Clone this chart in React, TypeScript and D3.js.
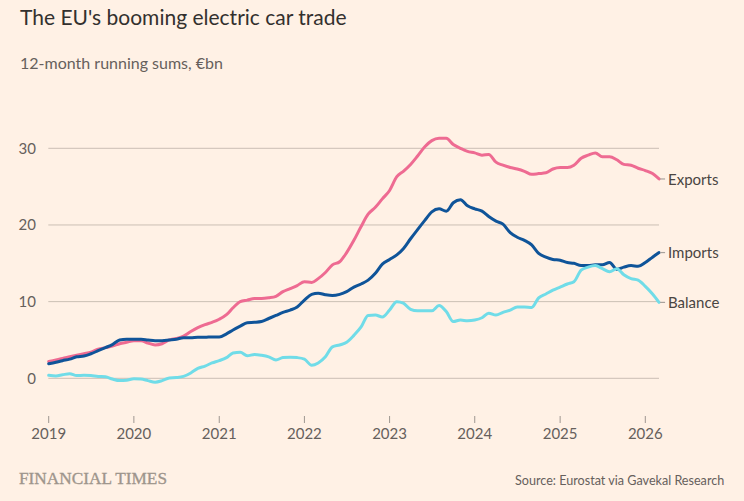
import React from "react";
import * as d3 from "d3";

const START_YEAR = 2019;
const exportsVals = [
  2.2, 2.4, 2.6, 2.8, 3.0, 3.2, 3.4, 3.8, 4.0, 4.2, 4.5, 4.7,
  4.9, 4.9, 4.6, 4.35, 4.5, 5.0, 5.2, 5.5, 6.1, 6.6, 7.0, 7.3,
  7.7, 8.3, 9.2, 10.0, 10.2, 10.4, 10.4, 10.5, 10.7, 11.3, 11.7, 12.1,
  12.6, 12.5, 13.0, 13.8, 14.8, 15.2, 16.4, 18.0, 19.8, 21.4, 22.3, 23.4,
  24.5, 26.3, 27.0, 27.9, 29.0, 30.2, 31.0, 31.3, 31.3, 30.5, 30.0, 29.6,
  29.4, 29.1, 29.2, 28.2, 27.8, 27.5, 27.3, 27.0, 26.6, 26.7, 26.8, 27.3,
  27.5, 27.5, 27.8, 28.7, 29.1, 29.4, 28.9, 28.9, 28.5, 27.9, 27.8, 27.4,
  27.1, 26.7, 26.0,
];
const importsVals = [
  1.9, 2.1, 2.3, 2.5, 2.8, 2.9, 3.2, 3.6, 4.0, 4.4, 5.0, 5.1,
  5.1, 5.1, 5.0, 4.9, 4.9, 5.0, 5.1, 5.3, 5.3, 5.35, 5.35, 5.4,
  5.4, 5.8, 6.3, 6.8, 7.25, 7.3, 7.4, 7.8, 8.2, 8.6, 8.9, 9.3,
  10.2, 10.95, 11.1, 10.9, 10.8, 10.95, 11.3, 11.9, 12.3, 12.8, 13.7, 14.9,
  15.5, 16.1, 16.9, 18.2, 19.4, 20.6, 21.7, 22.1, 21.8, 22.9, 23.3, 22.5,
  22.1, 21.8, 21.1, 20.5, 20.1, 19.0, 18.4, 18.0, 17.4, 16.3, 15.8, 15.5,
  15.4, 15.1, 15.0, 14.7, 14.7, 14.8, 14.8, 15.1, 14.2, 14.5, 14.7, 14.6,
  15.1, 15.8, 16.4,
];
const balanceVals = [
  0.4, 0.3, 0.45, 0.6, 0.35, 0.4, 0.35, 0.25, 0.2, -0.1, -0.3, -0.25,
  -0.05, -0.1, -0.3, -0.5, -0.3, 0.05, 0.1, 0.25, 0.7, 1.3, 1.6, 2.0,
  2.3, 2.7, 3.3, 3.4, 2.95, 3.1, 3.0, 2.8, 2.4, 2.7, 2.75, 2.7,
  2.5, 1.7, 2.0, 2.8, 4.1, 4.35, 4.7, 5.6, 6.7, 8.2, 8.25, 8.0,
  8.9, 10.0, 9.8, 9.0, 8.8, 8.8, 8.8, 9.5, 8.7, 7.4, 7.6, 7.5,
  7.6, 7.9, 8.5, 8.25, 8.6, 8.9, 9.3, 9.3, 9.25, 10.5, 11.0, 11.5,
  11.9, 12.3, 12.6, 14.1, 14.5, 14.7, 14.3, 13.9, 14.3, 13.5, 13.0, 12.8,
  12.0, 11.0, 9.9,
];
const seriesNames = ["Exports", "Imports", "Balance"];
const seriesColors = ["#ee6b92", "#0f5499", "#70dce8"];
const yTicks = [0, 10, 20, 30];
const xTickYears = [2019, 2020, 2021, 2022, 2023, 2024, 2025, 2026];

const W = 744;
const H = 501;
const FONT = "Lato, 'Noto Sans', sans-serif";

export default function App() {
  const x = d3
    .scaleTime()
    .domain([new Date(2019, 0, 1), new Date(2026, 0, 1)])
    .range([48.7, 645.3]);
  const y = d3.scaleLinear().domain([0, 30]).range([378.3, 148.3]);
  const dateOf = (i: number) => new Date(START_YEAR, i, 1);
  const allSeries = [exportsVals, importsVals, balanceVals];
  const line = d3
    .line<number>()
    .x((_, i) => x(dateOf(i)))
    .y((v) => y(v))
    .curve(d3.curveMonotoneX);
  const xLeft = 48.3;
  const xRight = 659;

  return (
    <svg
      width={W}
      height={H}
      style={{ position: "absolute", left: 0, top: 0, background: "#fff1e5" }}
    >
      <rect x={0} y={0} width={W} height={H} fill="#fff1e5" />
      <text x={20} y={25} fontFamily={FONT} fontSize={21} fill="#33302e">
        The EU's booming electric car trade
      </text>
      <text x={20} y={69} fontFamily={FONT} fontSize={16} fill="#66605c">
        12-month running sums, €bn
      </text>
      {yTicks.map((t) => (
        <g key={t}>
          <line x1={xLeft} x2={xRight} y1={y(t)} y2={y(t)} stroke="#cbbfb4" strokeWidth={1} />
          <text
            x={36}
            y={y(t)}
            dy="0.35em"
            textAnchor="end"
            fontFamily={FONT}
            fontSize={15}
            fill="#66605c"
          >
            {t}
          </text>
        </g>
      ))}
      {xTickYears.map((yr) => {
        const px = x(new Date(yr, 0, 1));
        return (
          <g key={yr}>
            <line x1={px} x2={px} y1={416} y2={423} stroke="#9e9790" strokeWidth={1} />
            <text
              x={px}
              y={439}
              textAnchor="middle"
              fontFamily={FONT}
              fontSize={15}
              fill="#66605c"
            >
              {yr}
            </text>
          </g>
        );
      })}
      {allSeries.map((vals, si) => (
        <path
          key={si}
          d={line(vals) || ""}
          fill="none"
          stroke={seriesColors[si]}
          strokeWidth={3}
          strokeLinejoin="round"
          strokeLinecap="round"
        />
      ))}
      {allSeries.map((vals, si) => {
        const last = vals.length - 1;
        const ex = x(dateOf(last));
        const ey = y(vals[last]);
        return (
          <g key={"l" + si}>
            <line x1={ex + 1} x2={ex + 6} y1={ey} y2={ey} stroke="#a8a29c" strokeWidth={1.2} />
            <text
              x={668}
              y={ey}
              dy="0.38em"
              fontFamily={FONT}
              fontSize={15}
              fill="#4a4542"
            >
              {seriesNames[si]}
            </text>
          </g>
        );
      })}
      <text
        x={19}
        y={484}
        fontFamily="'Liberation Serif', 'DejaVu Serif', serif"
        fontSize={17.5}
        fill="#9e958c"
        stroke="#9e958c"
        strokeWidth={0.35}
        textLength={148}
        lengthAdjust="spacingAndGlyphs"
      >
        FINANCIAL TIMES
      </text>
      <text x={515} y={485} fontFamily={FONT} fontSize={12.6} fill="#66605c">
        Source: Eurostat via Gavekal Research
      </text>
    </svg>
  );
}
